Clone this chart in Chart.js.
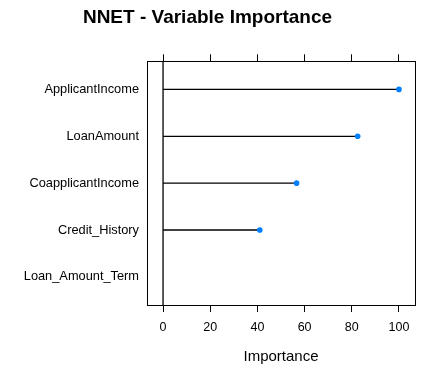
<!DOCTYPE html>
<html>
<head>
<meta charset="utf-8">
<script src="https://cdn.jsdelivr.net/npm/chart.js@4/dist/chart.umd.min.js"></script>
<style>
html,body{margin:0;padding:0;background:#fff;}
#wrap{width:447px;height:376px;position:relative;}
</style>
</head>
<body>
<div id="wrap"><canvas id="c"></canvas></div>
<script>
const variables = ["ApplicantIncome", "LoanAmount", "CoapplicantIncome", "Credit_History", "Loan_Amount_Term"];
const importance = [100, 82.5, 56.6, 41.0, null];
const xTicks = [0, 20, 40, 60, 80, 100];
const xMin = -6.8, xMax = 106.8;
const yMin = 0.4, yMax = variables.length + 0.6;

const FONT = "'Liberation Sans', Arial, sans-serif";

const datasets = [];
datasets.push({
  label: 'points',
  data: importance.map((v, i) => v === null ? null : {x: v, y: i + 1}).filter(p => p),
  showLine: false,
  pointStyle: 'circle',
  pointRadius: 2.8,
  pointBackgroundColor: '#0080ff',
  pointBorderColor: '#0080ff',
  pointBorderWidth: 0
});
importance.forEach((v, i) => {
  if (v === null) return;
  datasets.push({
    label: 'seg' + i,
    data: [{x: 0, y: i + 1}, {x: v, y: i + 1}],
    showLine: true,
    borderColor: '#000',
    borderWidth: 1.3,
    pointRadius: 0
  });
});
datasets.push({
  label: 'zero',
  data: [{x: 0, y: yMin}, {x: 0, y: yMax}],
  showLine: true,
  borderColor: '#000',
  borderWidth: 1.3,
  pointRadius: 0
});

const setX = (s) => { s.ticks = xTicks.map(v => ({value: v})); };

new Chart(document.getElementById('c'), {
  type: 'scatter',
  data: {datasets},
  options: {
    responsive: true,
    maintainAspectRatio: false,
    animation: false,
    devicePixelRatio: 1,
    layout: {padding: {left: 0, right: 32, top: 0, bottom: 0}},
    plugins: {
      legend: {display: false},
      tooltip: {enabled: false},
      title: {
        display: true,
        text: 'NNET - Variable Importance',
        color: '#000',
        font: {family: FONT, size: 19, weight: 'bold'},
        padding: {top: 6, bottom: 25.5}
      }
    },
    scales: {
      x: {
        type: 'linear', position: 'bottom', min: xMin, max: xMax,
        afterBuildTicks: setX,
        afterFit: (s) => { s.height = 71; },
        grid: {drawOnChartArea: false, drawTicks: true, tickLength: 7, color: '#000', lineWidth: 1},
        border: {display: true, color: '#000', width: 1},
        ticks: {color: '#000', font: {family: FONT, size: 12.5}, padding: 8, maxRotation: 0},
        title: {display: true, text: 'Importance', color: '#000', font: {family: FONT, size: 15}, padding: {top: 4, bottom: 10}}
      },
      x2: {
        type: 'linear', position: 'top', min: xMin, max: xMax,
        afterBuildTicks: setX,
        grid: {drawOnChartArea: false, drawTicks: true, tickLength: 7, color: '#000', lineWidth: 1},
        border: {display: true, color: '#000', width: 1},
        ticks: {display: false}
      },
      y: {
        type: 'linear', position: 'left', min: yMin, max: yMax, reverse: true,
        afterBuildTicks: (s) => { s.ticks = variables.map((_, i) => ({value: i + 1})); },
        afterFit: (s) => { s.width = 147; },
        grid: {drawOnChartArea: false, drawTicks: false},
        border: {display: true, color: '#000', width: 1},
        ticks: {color: '#000', font: {family: FONT, size: 12.8}, padding: 8,
          callback: (v) => variables[Math.round(v) - 1] || ''}
      },
      y2: {
        type: 'linear', position: 'right', min: yMin, max: yMax,
        grid: {drawOnChartArea: false, drawTicks: false},
        border: {display: true, color: '#000', width: 1},
        ticks: {display: false}
      }
    }
  }
});
</script>
</body>
</html>
